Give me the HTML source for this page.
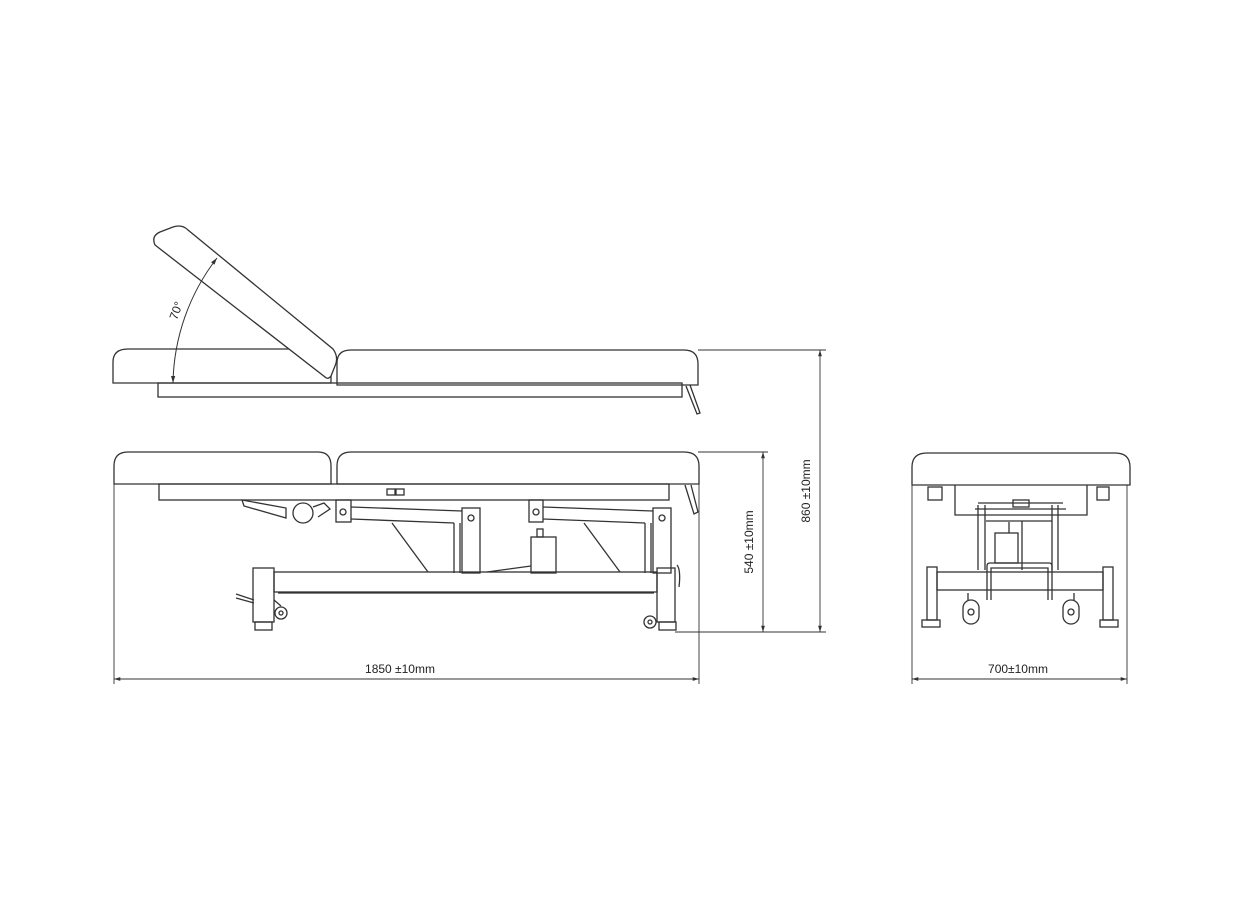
<!DOCTYPE html>
<html><head><meta charset="utf-8"><style>
html,body{margin:0;padding:0;background:#fff;}
svg{display:block;}
text{font-family:"Liberation Sans",sans-serif;font-size:12px;fill:#222;}
</style></head><body>
<svg width="1240" height="915" viewBox="0 0 1240 915" xmlns="http://www.w3.org/2000/svg">
<defs>
<marker id="ar" viewBox="0 0 10 10" refX="10" refY="5" markerWidth="7" markerHeight="7" orient="auto-start-reverse"><path d="M0,2 L10,5 L0,8 z" fill="#333"/></marker>
</defs>
<g fill="none" stroke="#333" stroke-width="1.3">
<!-- TOP VIEW -->
<path d="M113,383 L113,362 Q113,349 128,349 L318,349 Q330,349 331,362 L331,383 Z"/>
<path d="M337,385 L337,363 Q337,350 351,350 L684,350 Q698,350 698,364 L698,385 Z"/>
<path d="M155,245 Q151,236 160,232 L173,227 Q182,224 188,230 L333,349 Q339,357 335,366 L331,376 Q328,380 325,377 Z" fill="#fff"/>
<rect x="158" y="383" width="524" height="14"/>
<path d="M686,386 L697,414 L700,413 L690,385"/>
<path d="M173,383 A210,210 0 0 1 217,258" marker-start="url(#ar)" marker-end="url(#ar)" stroke-width="1"/>
<!-- SIDE VIEW -->
<path d="M114,484 L114,466 Q114,452 128,452 L318,452 Q331,452 331,466 L331,484 Z"/>
<path d="M337,484 L337,466 Q337,452 351,452 L684,452 Q699,452 699,466 L699,484 Z"/>
<rect x="159" y="484" width="510" height="16"/>
<rect x="387" y="489" width="8" height="6"/><rect x="396" y="489" width="8" height="6"/>
<path d="M685,485 L694,514 L698,512 L691,485"/>
<path d="M242,500 L286,508 L286,518 L244,506 Z"/>
<circle cx="303" cy="513" r="10"/>
<path d="M313,507 L324,503 L330,509 L318,517"/>
<rect x="336" y="500" width="15" height="22"/><circle cx="343" cy="512" r="3"/>
<path d="M351,507 L462,511 M351,519 L454,523"/>
<rect x="462" y="508" width="18" height="65"/><circle cx="471" cy="518" r="3"/>
<path d="M454,523 L454,573 M460,523 L460,573"/>
<path d="M392,523 L428,572"/>
<rect x="529" y="500" width="14" height="22"/><circle cx="536" cy="512" r="3"/>
<path d="M543,507 L653,511 M543,519 L645,523"/>
<rect x="653" y="508" width="18" height="65"/><circle cx="662" cy="518" r="3"/>
<path d="M645,523 L645,573 M651,523 L651,573"/>
<path d="M584,523 L620,572"/>
<rect x="531" y="537" width="25" height="36"/><rect x="537" y="529" width="6" height="8"/>
<path d="M487,572 L531,566"/>
<rect x="274" y="572" width="383" height="20"/>
<path d="M278,593 L654,593"/>
<rect x="253" y="568" width="21" height="54"/>
<rect x="255" y="622" width="17" height="8"/>
<path d="M236,594 L254,600 M236,598 L254,603"/>
<circle cx="281" cy="613" r="6"/><circle cx="281" cy="613" r="2"/>
<path d="M274,600 L281,606"/>
<rect x="657" y="568" width="18" height="54"/>
<rect x="659" y="622" width="17" height="8"/>
<circle cx="650" cy="622" r="6"/><circle cx="650" cy="622" r="2"/>
<path d="M677,565 Q681,570 679,587"/>
<!-- END VIEW -->
<path d="M912,485 L912,467 Q912,453 927,453 L1115,453 Q1130,453 1130,467 L1130,485 Z"/>
<path d="M955,485 L955,515 L1087,515 L1087,485"/>
<rect x="928" y="487" width="14" height="13"/><rect x="1097" y="487" width="12" height="13"/>
<path d="M978,503 L1063,503 M975,509 L1066,509 M986,521 L1052,521"/>
<rect x="1013" y="500" width="16" height="7"/>
<path d="M978,505 L978,570 M985,505 L985,570 M1052,505 L1052,570 M1058,505 L1058,570"/>
<rect x="995" y="533" width="23" height="30"/><path d="M1009,522 L1009,533 M1022,521 L1022,570"/>
<rect x="937" y="572" width="166" height="18"/>
<rect x="927" y="567" width="10" height="53"/><rect x="922" y="620" width="18" height="7"/>
<rect x="1103" y="567" width="10" height="53"/><rect x="1100" y="620" width="18" height="7"/>
<path d="M987,600 L987,566 Q987,563 990,563 L1049,563 Q1052,563 1052,566 L1052,600"/>
<path d="M991,600 L991,568 L1048,568 L1048,600"/>
<rect x="963" y="600" width="16" height="24" rx="8"/><circle cx="971" cy="612" r="3"/>
<rect x="1063" y="600" width="16" height="24" rx="8"/><circle cx="1071" cy="612" r="3"/>
<path d="M968,593 L968,600 M1074,593 L1074,600"/>
</g>
<!-- dimension lines -->
<g fill="none" stroke="#333" stroke-width="0.9">
<path d="M698,350 L826,350 M698,452 L768,452 M675,632 L826,632"/>
<path d="M820,350 L820,632" marker-start="url(#ar)" marker-end="url(#ar)"/>
<path d="M763,452 L763,632" marker-start="url(#ar)" marker-end="url(#ar)"/>
<path d="M114,484 L114,684 M699,484 L699,684"/>
<path d="M114,679 L699,679" marker-start="url(#ar)" marker-end="url(#ar)"/>
<path d="M912,485 L912,684 M1127,485 L1127,684"/>
<path d="M912,679 L1127,679" marker-start="url(#ar)" marker-end="url(#ar)"/>
</g>
<text x="180" y="312" transform="rotate(-70 180 312)" text-anchor="middle">70°</text>
<text x="810" y="491" transform="rotate(-90 810 491)" text-anchor="middle">860 ±10mm</text>
<text x="753" y="542" transform="rotate(-90 753 542)" text-anchor="middle">540 ±10mm</text>
<text x="400" y="673" text-anchor="middle">1850 ±10mm</text>
<text x="1018" y="673" text-anchor="middle">700±10mm</text>
</svg>
</body></html>
